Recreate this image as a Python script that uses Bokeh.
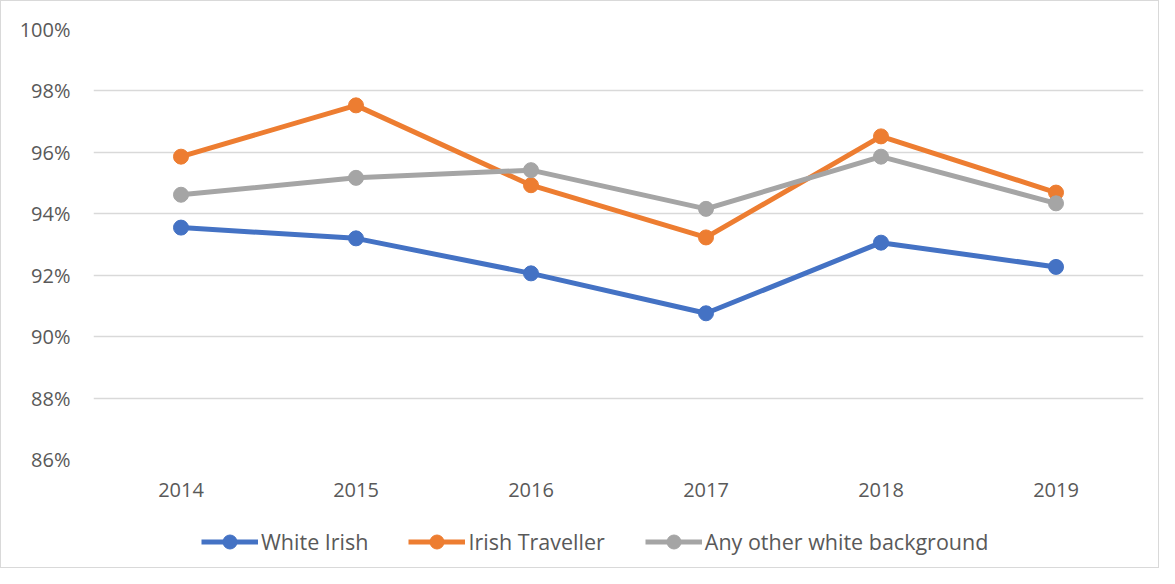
from bokeh.plotting import figure
from bokeh.layouts import column
from bokeh.models import FactorRange, Range1d, PrintfTickFormatter, Legend, LegendItem, FixedTicker
from bokeh.embed import file_html
from bokeh.resources import INLINE

years = ["2014", "2015", "2016", "2017", "2018", "2019"]
white_irish = [93.55, 93.2, 92.06, 90.76, 93.06, 92.27]
irish_traveller = [95.86, 97.53, 94.93, 93.23, 96.52, 94.69]
other_white = [94.62, 95.17, 95.42, 94.16, 95.86, 94.34]
series_names = ["White Irish", "Irish Traveller", "Any other white background"]
colors = ["#4472C4", "#ED7D31", "#A5A5A5"]
y_ticks = [86, 88, 90, 92, 94, 96, 98, 100]

FONT = "Open Sans"
TXT = "#595959"
series = [white_irish, irish_traveller, other_white]

p = figure(width=1157, height=510, x_range=FactorRange(*years, range_padding=0),
           y_range=Range1d(86, 100), output_backend="svg", toolbar_location=None,
           min_border_left=92, min_border_right=15, min_border_top=28, min_border_bottom=52)
p.outline_line_color = None
p.background_fill_color = "white"
p.border_fill_color = "white"

p.xgrid.grid_line_color = None
p.ygrid.grid_line_color = "#d9d9d9"
p.ygrid.grid_line_width = 1.3

p.yaxis.ticker = FixedTicker(ticks=y_ticks)
p.yaxis.formatter = PrintfTickFormatter(format="%d%%")
for ax in (p.xaxis[0], p.yaxis[0]):
    ax.axis_line_color = None
    ax.major_tick_line_color = None
    ax.minor_tick_line_color = None
    ax.major_label_text_font = FONT
    ax.major_label_text_font_size = "20px"
    ax.major_label_text_color = TXT
p.yaxis.major_label_standoff = 17
p.xaxis.major_label_standoff = 17

for vals, c in zip(series, colors):
    p.line(years, vals, line_color=c, line_width=5)
    p.scatter(years, vals, size=15, fill_color=c, line_color=c)

# legend strip below the chart (series drawn out of view; only the legend shows)
lg = figure(width=1157, height=56, x_range=FactorRange(*years, range_padding=0),
            y_range=Range1d(0, 1), output_backend="svg", toolbar_location=None,
            x_axis_location=None, y_axis_location=None,
            min_border_left=0, min_border_right=0, min_border_top=0, min_border_bottom=0)
lg.outline_line_color = None
lg.xgrid.grid_line_color = None
lg.ygrid.grid_line_color = None
items = []
for name, vals, c in zip(series_names, series, colors):
    r1 = lg.line(years, vals, line_color=c, line_width=5)
    r2 = lg.scatter(years, vals, size=15, fill_color=c, line_color=c)
    items.append(LegendItem(label=name, renderers=[r1, r2]))
legend = Legend(items=items, orientation="horizontal", location=(108, 8),
                glyph_width=57, glyph_height=35, label_standoff=3, spacing=40,
                padding=0, margin=0, border_line_color=None, background_fill_alpha=0,
                label_text_font=FONT, label_text_font_size="21.5px", label_text_color=TXT)
lg.add_layout(legend, "center")

layout = column(p, lg, spacing=0, styles={"border": "1px solid #d9d9d9"})
open("out.html", "w").write(file_html(layout, INLINE))
